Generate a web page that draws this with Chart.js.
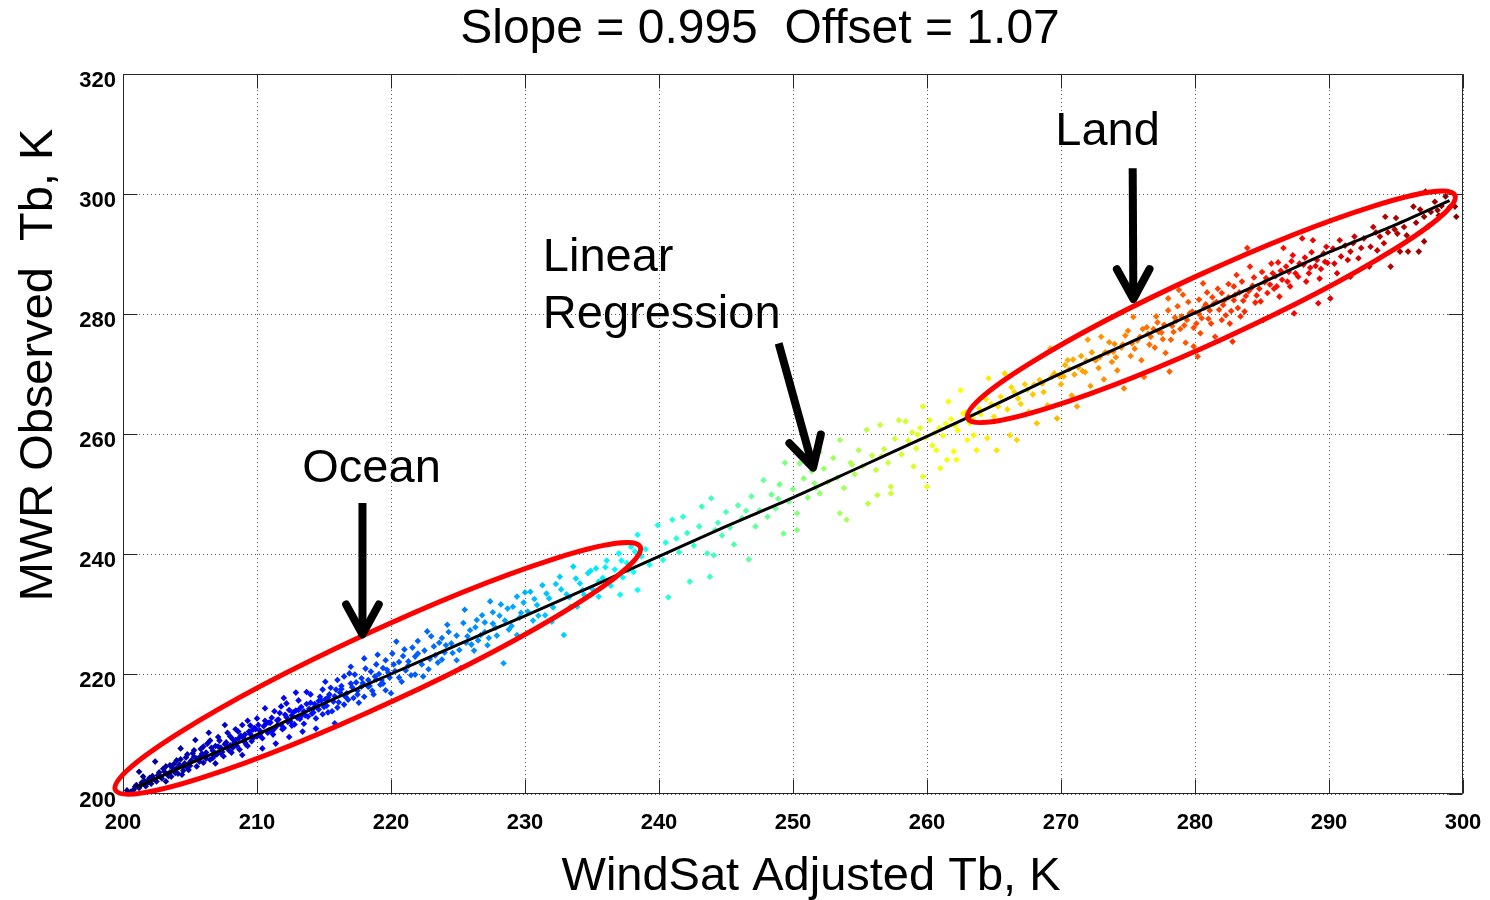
<!DOCTYPE html>
<html>
<head>
<meta charset="utf-8">
<script src="https://cdn.jsdelivr.net/npm/chart.js@4.4.1/dist/chart.umd.min.js"></script>
<style>
  html, body { margin: 0; padding: 0; background: #fff; overflow: hidden; }
  canvas { display: block; }
</style>
</head>
<body>
<canvas id="chart" width="1490" height="900" style="width:1490px;height:900px"></canvas>
<script>
// ---- data: [WindSat adjusted Tb, MWR observed Tb] ----
const oceanTb = [
  [200.6,200.4],[200.9,201.2],[201.2,201.0],[201.4,201.9],[201.5,202.9],[201.2,203.7],[201.7,201.3],[201.9,202.4],
  [202.1,201.7],[202.2,203.0],[202.4,205.4],[202.5,202.1],[202.7,203.6],[202.9,202.6],[203.0,204.2],[203.2,202.1],
  [203.3,203.3],[203.5,204.8],[203.6,202.9],[203.8,203.9],[204.0,205.6],[204.1,203.4],[204.3,207.6],[204.4,203.2],
  [204.5,204.6],[204.7,206.1],[204.9,204.0],[205.0,205.3],[205.2,206.8],[205.4,209.0],[205.5,204.6],[205.6,205.9],
  [205.8,207.5],[206.0,205.2],[206.1,206.5],[206.3,208.4],[206.4,210.2],[206.5,205.7],[206.7,207.2],[206.9,205.1],
  [207.0,206.6],[207.2,208.9],[207.3,207.7],[207.5,206.3],[207.6,211.5],[207.8,207.9],[208.0,209.6],[208.1,206.9],
  [208.3,208.5],[208.4,209.0],[208.6,210.4],[208.7,207.4],[208.9,206.5],[209.0,209.3],[209.2,208.2],[209.3,212.2],
  [209.5,210.0],[209.6,208.8],[209.8,211.0],[210.0,209.6],[210.1,211.5],[210.3,210.2],[210.4,207.6],[210.6,214.3],
  [210.7,211.8],[210.9,210.6],[211.1,212.7],[211.2,209.9],[211.4,208.4],[211.5,211.4],[211.7,213.5],[211.9,210.8],
  [212.0,216.0],[212.2,215.1],[212.3,212.0],[212.4,209.5],[212.6,213.1],[212.8,211.6],[212.9,216.9],[213.1,214.0],
  [213.2,212.5],[213.4,210.4],[213.5,213.8],[213.7,217.0],[213.8,212.9],[214.0,215.2],[214.2,213.6],[214.4,210.9],
  [214.5,214.6],[214.7,216.2],[214.9,213.3],[215.1,218.7],[215.2,214.7],[215.4,216.6],[215.6,213.8],[215.8,211.8],
  [215.9,217.4],[216.0,219.0],[216.1,215.3],[216.3,218.0],[216.5,214.9],[216.7,216.8],[216.9,220.1],[217.0,221.2],
  [217.2,216.0],[217.4,218.6],[217.6,215.2],[217.8,219.3],[218.0,222.6],[218.0,216.2],[218.3,217.9],[218.5,220.4],
  [218.7,216.6],[218.9,219.1],[219.0,223.2],[219.2,218.2],[219.4,221.0],[219.6,217.3],[219.8,220.2],[220.0,216.8],
  // dense core next to the fit
  [200.3,200.6],[200.8,200.7],[201.0,201.5],[201.3,201.4],[201.6,202.2],[201.8,201.8],[202.0,202.7],[202.3,202.5],
  [202.6,203.1],[202.8,202.9],[203.1,203.7],[203.4,203.0],[203.7,204.3],[203.9,203.5],[204.2,204.9],[204.6,205.1],
  [204.8,204.4],[205.1,205.6],[205.3,206.2],[205.7,205.4],[205.9,206.7],[206.2,205.9],[206.6,207.7],[206.8,206.4],
  [207.1,207.9],[207.4,207.0],[207.7,208.6],[207.9,207.3],[208.2,209.1],[208.5,208.0],[208.8,209.7],[209.1,208.6],
  [209.4,210.4],[209.7,209.3],[209.9,210.8],[210.2,209.8],[210.5,211.3],[210.8,210.2],[211.0,211.9],[211.3,210.9],
  [211.6,212.4],[211.8,211.5],[212.1,213.2],[212.5,212.1],[212.7,213.6],[213.0,212.7],[213.3,214.5],[213.6,213.1],
  [213.9,214.2],[214.1,213.4],[214.3,215.0],[214.6,214.1],[214.8,215.6],[215.0,214.5],[215.3,216.1],[215.7,215.4],
  [216.2,216.9],[216.6,216.2],[217.1,217.8],[217.5,217.2],[217.9,218.5],[218.4,218.0],[218.8,219.6],[219.3,219.0],
  [219.7,220.7],
  [203.2,204.6],[203.5,203.6],[203.8,205.0],[204.0,204.3],[204.3,205.8],[204.5,203.9],[204.8,206.6],[205.0,204.7],
  [205.3,207.3],[205.5,205.9],[205.8,206.3],[206.0,207.9],[206.2,206.9],[206.5,208.9],[206.7,206.0],[206.9,208.0],
  [207.1,209.5],[207.3,206.8],[207.6,208.3],[207.8,210.2],[208.0,208.1],[208.2,207.7],[208.4,210.8],[208.6,209.2],
  [208.9,211.5],[209.1,209.9],[209.3,208.0],[209.5,211.4],[209.7,210.7],[210.0,212.6],[210.2,210.6],[210.4,209.3],
  [210.6,212.2],[210.9,211.9],[211.1,210.4],[211.3,213.8],[211.5,212.3],[211.8,214.6],[212.0,211.0],[212.2,212.8],
  [212.4,214.0],[212.6,211.4],[212.9,213.9],[213.1,215.6],[213.3,213.0],[213.5,211.7],[213.7,215.0],[214.0,216.6],
  [214.2,214.3],[214.4,212.6],[214.6,215.5],[214.9,217.4],[215.1,215.8],[215.3,213.6],[215.5,217.7],[215.8,216.3],
  [216.0,214.4],[216.3,217.5],[216.5,219.6],[216.8,215.7],[217.0,218.4],[217.3,219.9],[217.5,216.6],[217.8,217.9],
  [218.1,220.9],[218.3,219.0],[218.6,217.2],[218.9,221.6],[219.1,220.0],[219.4,218.4],[219.6,222.3],[219.9,219.4],
  [220.1,223.4],[220.3,220.5],[220.6,222.0],[220.8,218.7],[221.0,224.1],[221.3,221.4],[221.5,219.8],[221.8,222.9],
  [222.0,225.5],[222.3,221.6],[222.5,223.9],[222.8,220.8],[223.0,226.3],[223.3,223.1],[223.6,225.2],[223.8,222.4],
  [224.1,224.8],[224.3,227.0],[224.6,223.5],[224.9,226.4],[225.1,224.0],[225.4,228.5],[225.6,225.2],[225.9,227.3],
  [226.2,223.9],[226.4,229.0],[226.7,226.5],[227.0,228.6],[227.3,226.0],[227.6,230.3],[227.8,227.7],[228.2,231.6],
  [228.5,228.9],[228.8,227.4],[229.1,231.2],[229.6,229.4],[229.9,231.9],[230.2,230.4],[230.7,232.5],[231.0,229.7],
  [231.6,233.4],[232.1,231.1],[232.7,234.1],[233.3,232.8],[233.8,235.9],[234.3,234.0],[234.9,237.2],[235.5,235.4],
  [236.0,237.8],[236.6,236.0],[237.2,238.9],[237.7,237.3],[238.2,240.4],
  [220.2,221.6],[220.4,225.4],[220.6,219.4],[220.9,223.0],[221.1,220.6],[221.3,222.1],[221.6,224.4],[221.8,219.9],
  [222.0,223.4],[222.4,219.6],[222.7,227.1],[222.9,222.5],[223.2,224.6],[223.5,221.9],[223.8,226.0],[224.0,223.6],
  [224.2,228.2],[224.5,225.1],[224.9,222.3],[225.2,221.0],[225.5,230.7],[225.7,226.3],[226.0,224.9],[226.3,227.8],
  [226.5,225.6],[226.8,229.8],[227.0,227.0],[227.2,224.8],[227.4,232.1],[227.6,228.4],[227.9,226.4],[228.1,229.7],
  [228.4,221.8],[228.7,230.9],[229.0,228.0],[229.4,232.9],[229.4,226.5],[229.7,230.2],[230.0,233.6],[230.4,233.7],
  [230.6,228.9],[230.9,231.5],[231.3,234.8],[231.5,229.8],[231.8,232.6],[232.0,228.7],[232.3,235.0],[232.6,236.2],
  [232.9,226.5],[233.1,233.3],[233.4,231.2],[233.6,237.9],[233.9,231.2],[234.1,235.1],[234.4,233.2],[234.7,236.8],
  [235.0,234.2],[235.3,237.6],[235.5,232.9],[235.8,236.0],[236.1,238.9],[236.4,234.7],[236.7,237.4],[237.0,240.1],
  [237.1,233.2],[237.3,236.1],[237.6,238.5],[237.9,241.2],[238.1,237.0],[238.4,243.2],[238.4,234.0],[238.7,239.6]
];
const midTb = [
  [239.0,240.8],[239.3,238.2],[239.9,244.8],[240.3,239.0],[240.5,241.9],[240.7,232.8],[241.0,245.7],[241.3,242.6],
  [241.5,240.3],[241.8,246.2],[242.1,243.5],[242.3,235.4],[242.6,241.4],[243.0,244.6],[243.2,247.9],[243.6,240.1],
  [243.8,236.2],[243.9,249.3],[244.1,239.8],[244.4,245.2],[244.7,243.1],[245.0,247.0],[245.3,244.4],[245.6,241.6],
  [245.9,248.1],[246.2,246.0],[246.7,239.1],[246.9,249.6],[247.2,244.6],[247.5,247.3],[247.8,252.3],[248.1,246.2],
  [248.4,249.9],[248.7,247.6],[249.0,251.6],[249.3,243.4],[249.4,255.2],[249.7,248.7],[250.0,250.8],[250.3,244.0],
  [250.3,246.8],[250.5,255.1],[250.8,252.6],[251.1,249.4],[251.4,253.8],[251.7,251.0],[252.0,257.0],[252.0,250.1],
  [252.3,254.2],[252.6,252.0],[253.0,256.0],[253.3,252.7],[253.5,259.0],[253.5,246.8],[253.8,251.0],[254.0,245.7],
  [254.3,255.2],[254.6,253.3],[254.9,257.3],[255.2,254.6],[255.5,260.7],[255.6,248.4],[255.9,256.4],[256.2,254.0],
  [256.3,249.8],[256.5,261.5],[256.8,257.5],[257.1,255.2],[257.3,250.1],[257.3,251.2],[257.6,259.2],[257.9,262.3],
  [244.2,244.0],[246.5,247.2],[248.9,249.2],[251.6,251.8],[254.4,254.9],[256.6,256.3],
  [258.1,256.6],[258.4,262.1],[258.6,258.9],[258.9,260.3],[259.0,254.6],[259.2,257.6],[259.5,261.0],[259.7,264.6],
  [259.7,252.9],[259.9,259.4],[260.0,251.2],[260.2,262.3],[260.4,258.1],[260.7,257.3],[260.9,261.0],[261.0,254.3],
  [261.2,259.7],[261.5,255.7],[261.6,265.4],[261.8,262.5],[262.0,257.1],[262.2,255.7],[262.3,260.6],[262.5,267.3],
  [262.7,263.4],[263.0,259.0],[263.2,261.8],[263.5,259.8],[263.7,257.3],[263.9,264.2],[264.2,262.0],[264.5,259.3],
  [264.6,269.3],[264.8,265.0],[265.0,262.9],[265.2,257.3],[265.5,266.2],[265.8,270.1],[266.0,264.1],[266.2,259.8],
  [266.5,267.0],[266.7,259.0],
  [259.3,259.9],[260.6,260.2],[261.4,261.7],[262.1,261.4],[262.9,263.6],[263.4,262.7],[264.0,263.3],[264.4,265.8],
  [265.3,264.6],[266.3,267.8],[266.8,265.9]
];
const landTb = [
  [267.0,265.0],[267.3,268.3],[267.6,263.7],[267.9,266.6],[268.2,261.8],[268.4,269.0],[268.7,267.0],[269.0,264.8],
  [269.2,274.3],[269.5,270.1],[269.7,262.6],[270.0,268.3],[270.3,271.5],[270.5,272.3],[270.8,266.4],[271.0,269.9],
  [271.2,264.6],[271.5,273.0],[271.8,270.3],[272.0,275.7],[272.2,268.0],[272.5,272.4],[272.8,271.0],[273.0,276.2],
  [273.2,269.1],[273.5,273.5],[273.8,272.0],[274.0,275.0],[274.2,270.6],[274.5,274.4],[274.7,267.6],[275.0,277.2],
  [275.2,273.0],[275.4,279.5],[275.7,275.6],[276.0,272.3],[276.2,269.5],[276.4,277.8],
  [267.5,267.4],[268.0,268.2],[268.6,268.4],[269.3,269.5],[269.9,269.6],[270.6,270.8],[271.3,271.1],[271.9,272.2],
  [272.6,272.3],[273.3,273.6],[273.9,273.7],[274.6,274.9],[275.3,275.1],[275.9,276.2],
  [270.2,269.6],[270.9,272.4],[271.6,270.5],[272.3,273.6],[272.9,272.8],[273.6,275.3],[274.1,272.8],[274.8,276.4],
  [275.5,274.2],[276.1,277.5],[276.6,274.9],
  [276.7,276.2],[277.0,274.4],[277.2,278.6],[277.5,276.9],[277.8,273.5],[278.0,282.6],[278.1,270.4],[278.2,275.7],
  [278.5,279.4],[278.8,284.0],[278.9,277.5],[279.1,283.2],[279.3,275.2],[279.6,280.1],[279.9,274.6],[280.1,278.4],
  [280.2,272.9],[280.4,276.8],[280.6,285.1],[280.8,281.6],[281.0,279.2],[281.3,282.8],[281.5,276.2],[281.8,280.7],
  [282.0,283.5],[282.3,279.8],[282.6,278.4],[282.8,275.4],[282.9,284.6],[283.1,286.5],[283.4,279.6],[283.6,282.2],
  [283.9,291.0],[284.1,287.9],[284.2,284.3],[284.5,281.9],[284.9,282.1],[285.1,279.0],[285.3,286.0],[285.7,288.4],
  [285.9,284.2],[286.1,284.6],[286.4,287.2],[286.6,291.0],[286.9,285.4],[287.2,288.8],[287.4,280.1],[287.7,286.2],
  [288.0,292.6],[288.2,289.4],[288.5,286.8],[288.8,292.3],[289.0,288.0],[289.2,281.8],[289.3,285.9],[289.6,290.1],
  [289.9,288.5],
  [276.5,276.7],[276.9,277.5],[277.3,277.0],[277.7,278.2],[278.3,278.0],[278.6,278.9],[279.0,279.6],[279.4,279.0],
  [279.8,280.4],[280.3,280.0],[280.7,281.1],[281.1,280.6],[281.6,282.0],[282.1,281.5],[282.5,282.8],[282.9,282.3],
  [283.3,283.6],[283.8,283.0],[284.3,284.7],[284.8,284.2],[285.2,285.3],[285.6,284.9],[286.0,286.3],[286.5,285.7],
  [287.0,287.0],[287.5,286.8],[288.1,288.2],[288.6,287.7],[289.1,289.0],[289.7,288.7],
  [277.1,279.6],[277.6,275.8],[278.0,280.6],[278.4,277.0],[278.7,281.3],[279.2,278.1],[279.5,282.0],[279.9,277.7],
  [280.3,282.4],[280.5,279.3],[280.9,283.6],[281.2,278.4],[281.4,281.7],[281.7,284.2],[282.0,279.0],[282.2,282.3],
  [282.5,285.0],[282.7,280.5],[283.0,283.2],[283.2,281.0],[283.5,285.4],[283.7,280.4],[284.0,283.8],[284.4,286.1],
  [284.6,283.1],[285.0,287.0],[285.4,283.5],[285.8,286.8],[286.2,288.6],[286.3,282.9],[286.8,287.9],[287.1,284.6],
  [287.3,289.8],[287.8,288.4],[288.3,285.4],[288.7,290.3],[289.4,287.5],[289.8,291.2],
  [290.1,282.6],[290.3,290.9],[290.6,286.8],[290.9,289.6],[291.2,291.4],[291.6,286.2],[291.6,290.4],[291.8,291.8],
  [292.2,289.3],[292.6,292.6],[293.0,287.9],[293.1,291.2],[293.5,293.6],[293.8,292.9],[294.1,291.8],[294.2,296.2],
  [294.6,287.9],[294.9,294.1],[295.1,293.4],[295.3,290.4],[295.6,294.5],[295.9,290.4],[296.3,297.9],[296.5,295.2],
  [296.7,290.4],[297.1,292.1],[297.1,296.2],[297.2,300.4],[297.6,297.0],[297.9,298.7],[298.1,297.3],[298.4,298.0],
  [298.7,299.6],[299.0,297.8],[299.4,297.9],[299.5,296.2],
  [290.4,288.4],[290.8,292.3],[291.4,289.0],[291.9,292.9],[292.4,291.0],[293.3,294.5],[293.6,290.6],[294.4,293.6],
  [295.0,296.0],[295.8,293.1],[296.8,297.4],[297.4,294.6],[298.2,296.4]
];

// regression line as drawn
const fitX = [201, 205, 210, 215, 220, 225, 230, 235, 240, 245, 250, 255, 260, 265, 270, 275, 280, 285, 290, 295, 299];
const fitY = [201.1, 205.1, 209.9, 215.1, 220.0, 224.9, 229.7, 234.6, 239.6, 244.6, 249.4, 254.5, 259.6, 264.8, 270.1, 275.1, 280.2, 285.2, 290.3, 294.9, 298.9];

const xTicks = [200, 210, 220, 230, 240, 250, 260, 270, 280, 290, 300];
const yTicks = [200, 220, 240, 260, 280, 300, 320];

const titleText = "Slope = 0.995  Offset = 1.07";
const xTitle = "WindSat Adjusted Tb, K";
const yTitle = "MWR Observed  Tb, K";

// annotations, in data units
const ovals = [
  { from: [199.43, 200.67], to: [238.6, 241.2], half: 36 },
  { from: [263.04, 262.6], to: [299.4, 299.8], half: 34 },
];
const arrows = [
  { from: [217.87, 248.5], to: [217.87, 226.6] },
  { from: [248.93, 275.1], to: [251.5, 254.4] },
  { from: [275.35, 304.3], to: [275.4, 282.5] },
];
const notes = [
  { text: "Ocean", at: [213.38, 252.0] },
  { text: "Linear", at: [231.33, 287.2] },
  { text: "Regression", at: [231.33, 277.6] },
  { text: "Land", at: [269.57, 308.2] },
];

const FONT = "'Liberation Sans', Arial, Helvetica, sans-serif";

function jet(v) {
  const t = (v - 200) / 100;
  const c = (n) => Math.round(255 * Math.max(0, Math.min(1, n)));
  return `rgb(${c(1.5 - Math.abs(4 * t - 3))},${c(1.5 - Math.abs(4 * t - 2))},${c(1.5 - Math.abs(4 * t - 1))})`;
}

const allTb = [...oceanTb, ...midTb, ...landTb];
const points = allTb.map(([x, y]) => ({ x, y }));

const overlay = {
  id: "overlay",
  beforeDatasetsDraw(chart) {
    // dotted grid
    const { ctx, chartArea: a, scales } = chart;
    ctx.save();
    ctx.strokeStyle = "#555";
    ctx.lineWidth = 1;
    ctx.setLineDash([1, 3]);
    ctx.beginPath();
    xTicks.forEach((v) => {
      const p = Math.round(scales.x.getPixelForValue(v)) + 0.5;
      ctx.moveTo(p, a.top); ctx.lineTo(p, a.bottom);
    });
    yTicks.forEach((v) => {
      const p = Math.round(scales.y.getPixelForValue(v)) + 0.5;
      ctx.moveTo(a.left, p); ctx.lineTo(a.right, p);
    });
    ctx.stroke();
    ctx.restore();
  },
  afterDatasetsDraw(chart) {
    const { ctx, chartArea: a, scales } = chart;
    const sx = scales.x, sy = scales.y;
    const px = (v) => sx.getPixelForValue(v);
    const py = (v) => sy.getPixelForValue(v);
    ctx.save();

    // axes box and inward ticks
    ctx.strokeStyle = "#262626";
    ctx.lineWidth = 1;
    const L = Math.round(a.left) + 0.5, R = Math.round(a.right) - 0.5;
    const T = Math.round(a.top) + 0.5, B = Math.round(a.bottom) - 0.5;
    ctx.beginPath();
    ctx.rect(L, T, R - L, B - T);
    xTicks.forEach((v) => {
      const p = Math.round(px(v)) + 0.5;
      ctx.moveTo(p, B); ctx.lineTo(p, B - 14);
      ctx.moveTo(p, T); ctx.lineTo(p, T + 14);
    });
    yTicks.forEach((v) => {
      const p = Math.round(py(v)) + 0.5;
      ctx.moveTo(L, p); ctx.lineTo(L + 14, p);
      ctx.moveTo(R, p); ctx.lineTo(R - 14, p);
    });
    ctx.stroke();

    // red ellipses
    ctx.strokeStyle = "#ff0000";
    ctx.lineWidth = 5;
    ovals.forEach((o) => {
      const x0 = px(o.from[0]), y0 = py(o.from[1]);
      const x1 = px(o.to[0]), y1 = py(o.to[1]);
      const ang = Math.atan2(y1 - y0, x1 - x0);
      const len = Math.hypot(x1 - x0, y1 - y0) / 2;
      ctx.beginPath();
      ctx.ellipse((x0 + x1) / 2, (y0 + y1) / 2, len, o.half, ang, 0, Math.PI * 2);
      ctx.stroke();
    });

    // black arrows
    ctx.strokeStyle = "#000";
    ctx.lineWidth = 8;
    arrows.forEach((ar) => {
      const x0 = px(ar.from[0]), y0 = py(ar.from[1]);
      const x1 = px(ar.to[0]), y1 = py(ar.to[1]);
      ctx.lineCap = "butt";
      ctx.beginPath(); ctx.moveTo(x0, y0); ctx.lineTo(x1, y1); ctx.stroke();
      const ang = Math.atan2(y1 - y0, x1 - x0), hl = 34, hw = 0.5;
      ctx.lineCap = "round"; ctx.lineJoin = "round";
      ctx.beginPath();
      ctx.moveTo(x1 - hl * Math.cos(ang - hw), y1 - hl * Math.sin(ang - hw));
      ctx.lineTo(x1, y1);
      ctx.lineTo(x1 - hl * Math.cos(ang + hw), y1 - hl * Math.sin(ang + hw));
      ctx.stroke();
    });

    // text labels
    ctx.fillStyle = "#000";
    ctx.font = `47px ${FONT}`;
    ctx.textAlign = "left";
    ctx.textBaseline = "alphabetic";
    notes.forEach((n) => ctx.fillText(n.text, px(n.at[0]), py(n.at[1])));

    // titles
    ctx.textAlign = "center";
    ctx.font = `48px ${FONT}`;
    ctx.fillText(titleText, 760, 43);
    ctx.font = `47px ${FONT}`;
    ctx.fillText(xTitle, 811, 890);
    ctx.translate(52, 365);
    ctx.rotate(-Math.PI / 2);
    ctx.fillText(yTitle, 0, 0);
    ctx.restore();
  },
};

new Chart(document.getElementById("chart"), {
  type: "scatter",
  data: {
    datasets: [
      {
        type: "line",
        data: fitX.map((x, i) => ({ x, y: fitY[i] })),
        borderColor: "#000",
        borderWidth: 3,
        pointRadius: 0,
        fill: false,
        tension: 0.3,
      },
      {
        data: points,
        pointStyle: "rectRot",
        pointRadius: 3.3,
        pointBorderWidth: 0,
        pointBackgroundColor: points.map((p) => jet(p.x)),
      },
    ],
  },
  options: {
    responsive: false,
    animation: false,
    devicePixelRatio: 1,
    layout: { padding: { top: 74, right: 27, left: 0, bottom: 0 } },
    plugins: { legend: { display: false }, tooltip: { enabled: false } },
    scales: {
      x: {
        type: "linear",
        min: 200,
        max: 300,
        afterFit: (s) => { s.height = 106; s.paddingLeft = 0; s.paddingRight = 0; },
        ticks: { stepSize: 10, color: "#000", padding: 16, font: { family: FONT, size: 22, weight: "bold" } },
        grid: { display: false, drawTicks: false },
        border: { display: false },
      },
      y: {
        type: "linear",
        min: 200,
        max: 320,
        afterFit: (s) => { s.width = 123; s.paddingTop = 0; s.paddingBottom = 0; },
        ticks: { stepSize: 20, color: "#000", padding: 7, labelOffset: 7, font: { family: FONT, size: 22, weight: "bold" } },
        grid: { display: false, drawTicks: false },
        border: { display: false },
      },
    },
  },
  plugins: [overlay],
});
</script>
</body>
</html>
